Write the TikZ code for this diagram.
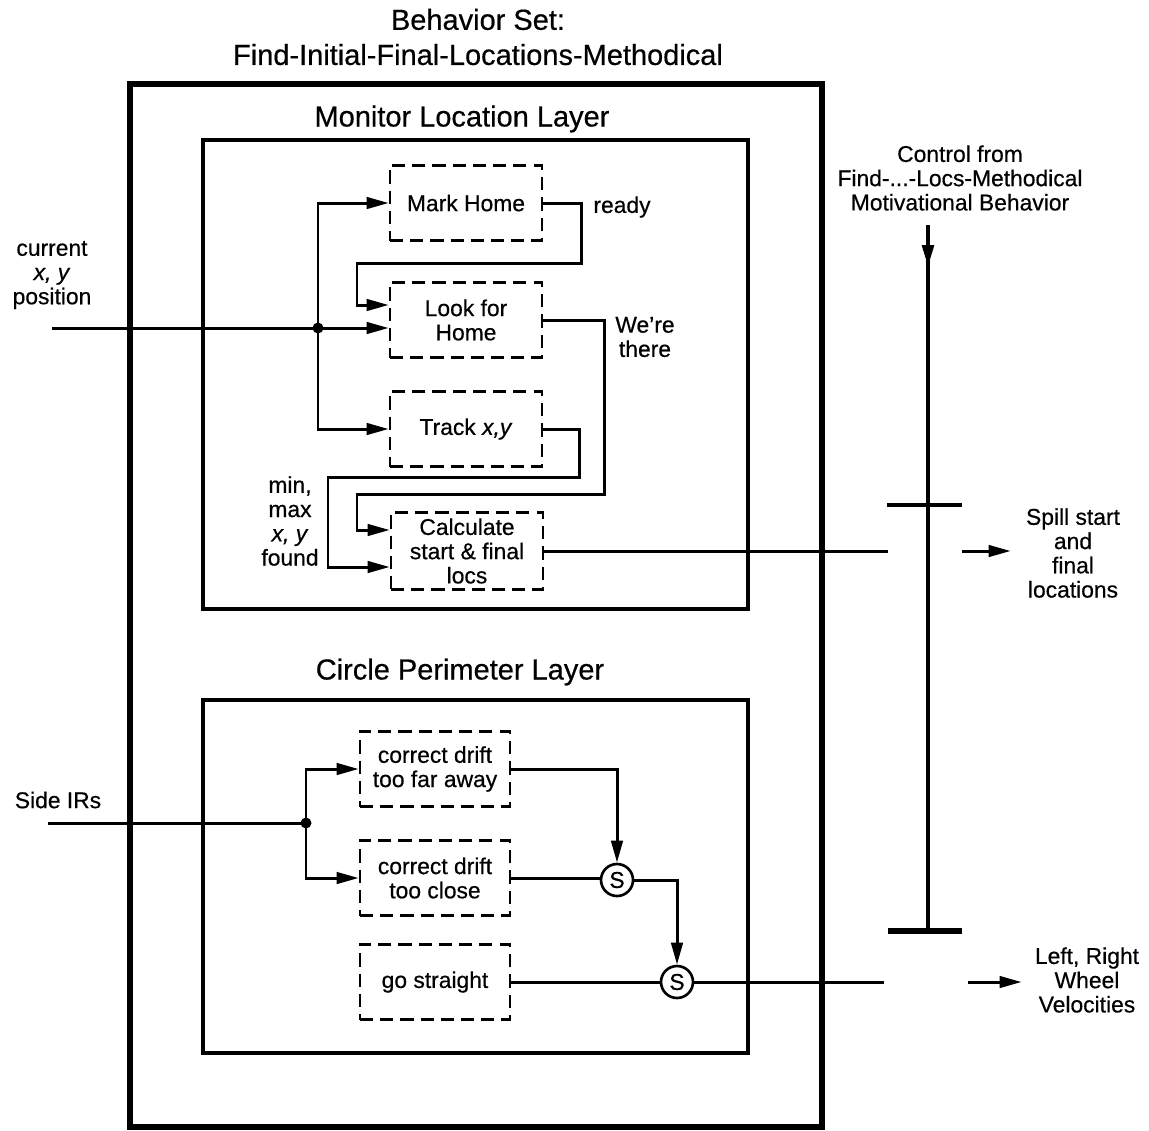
\documentclass[tikz,border=0pt]{standalone}
\usepackage{fontspec}
\setmainfont{Liberation Sans}[FakeBold=0.5]
\usetikzlibrary{arrows.meta,calc}

\begin{document}
\begin{tikzpicture}[x=0.02cm,y=-0.02cm,line width=1.7pt,
  >={Triangle[length=12.5pt,width=6.5pt]},
  behav/.style={draw,line width=1.5pt,dash pattern=on 7.5pt off 4pt,
    minimum width=3.04cm,minimum height=1.5cm,inner sep=1pt,align=center,
    font=\fontsize{13}{13.8}\selectfont},
  lbl/.style={align=center,font=\fontsize{13}{13.8}\selectfont},
  ttl/.style={align=center,font=\fontsize{16.5}{20}\selectfont},
  sw/.style={draw,circle,line width=1.5pt,minimum size=0.64cm,inner sep=0pt,
    font=\fontsize{13}{13}\selectfont}]
  \useasboundingbox (0,0) rectangle (1149,1130);

  \node[ttl] (title) at (478,37) {Behavior Set:\\Find-Initial-Final-Locations-Methodical};
  \draw[line width=3.2pt] (130,84) rectangle (822,1127);

  % monitor location layer
  \node[ttl] (mlt) at (462,119) {Monitor Location Layer};
  \draw[line width=1.8pt] (203,140) rectangle (748,609);
  \node[behav] (mark) at (466,203) {Mark Home};
  \node[behav] (look) at (466,320) {Look for\\Home};
  \node[behav] (track) at (466,429) {Track \textit{x,y}};
  \node[behav,minimum height=1.54cm] (calc) at (467,551) {Calculate\\start \& final\\locs};

  \coordinate (cin) at (52,328);
  \coordinate (br1) at (318,328);
  \draw (cin) -- (br1);
  \fill (br1) circle (5.5);
  \draw[->] (br1) -- (br1 -| look.west);
  \draw[->] (br1) |- (mark.west);
  \draw[->] (br1) |- (track.west);
  \draw[->] (mark.east) -- ++(38,0) |- (357,263) -- (357,305) -- (look.west |- 0,305);
  \draw[->] (look.east) -- ++(61,0) |- (357,494) -- (357,530) -- (calc.west |- 0,530);
  \draw[->] (track.east) -- ++(36,0) |- (328,477) -- (328,567) -- (calc.west |- 0,567);

  \node[lbl] (cur) at (52,275) {current\\\textit{x, y}\\position};
  \node[lbl] (rdy) at (622,207) {ready};
  \node[lbl] (there) at (645,337) {We're\\there};
  \node[lbl] (found) at (290,521) {min,\\max\\\textit{x, y}\\found};

  % circle perimeter layer
  \node[ttl] (cpt) at (460,672) {Circle Perimeter Layer};
  \draw[line width=1.8pt] (203,700) rectangle (748,1053);
  \node[behav,minimum width=3cm] (far) at (435,769) {correct drift\\too far away};
  \node[behav,minimum width=3cm] (close) at (435,878) {correct drift\\too close};
  \node[behav,minimum width=3cm] (straight) at (435,982) {go straight};
  \node[sw] (s1) at (617,880) {S};
  \node[sw] (s2) at (677,982) {S};

  \coordinate (sin) at (48,823);
  \coordinate (br2) at (306,823);
  \draw (sin) -- (br2);
  \fill (br2) circle (5.5);
  \draw[->] (br2) |- (far.west);
  \draw[->] (br2) |- (close.west);
  \draw[->] (far.east) -| (s1.north);
  \draw (close.east) -- (close.east -| s1.west);
  \draw[->] (s1.east) -| (s2.north);
  \draw (straight.east) -- (s2.west);
  \node[lbl] (side) at (58,800) {Side IRs};

  % suppression from the motivational behavior
  \node[lbl] (ctrl) at (960,178) {Control from\\Find-...-Locs-Methodical\\Motivational Behavior};
  \coordinate (ctl) at (928,225);
  \coordinate (inh) at (928,931);
  \draw[line width=2.4pt] (ctl) -- (inh);
  \draw[->,line width=2.4pt] (ctl) -- ++(0,42);
  \draw[line width=2pt] (887,505) -- (962,505);
  \draw[line width=3pt] (888,931) -- (962,931);

  \coordinate (sup1) at (888,551);
  \coordinate (sout1) at (962,551);
  \node[lbl] (spill) at (1073,553) {Spill start\\and\\final\\locations};
  \draw (calc.east) -- (sup1);
  \draw[->] (sout1) -- ($(spill.west |- sout1)+(-8,0)$);

  \coordinate (sup2) at (884,982);
  \coordinate (sout2) at (968,982);
  \node[lbl] (wheel) at (1087,980) {Left, Right\\Wheel\\Velocities};
  \draw (s2.east) -- (sup2);
  \draw[->] (sout2) -- ($(wheel.west |- sout2)+(-6,0)$);
\end{tikzpicture}
\end{document}
